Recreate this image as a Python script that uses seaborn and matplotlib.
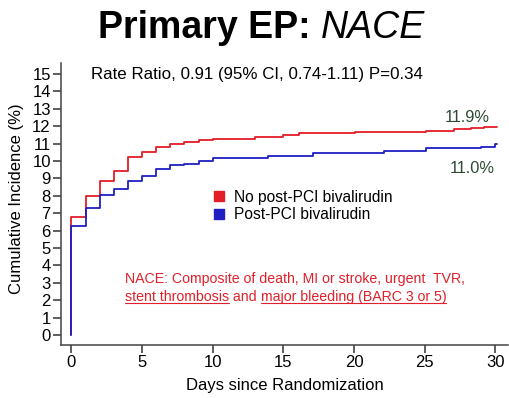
import numpy as np
import pandas as pd
import matplotlib
matplotlib.use("Agg")
import matplotlib.pyplot as plt
from matplotlib.lines import Line2D
import seaborn as sns

# values (step points)
red_days = [0, 0, 1, 2, 3, 4, 5, 6, 7, 8, 9, 10, 13, 15, 16.1, 20.1, 25.1, 27.1, 28.3, 29.2, 30.1]
red_inc = [0, 6.8, 8.0, 8.85, 9.42, 10.22, 10.52, 10.82, 10.95, 11.07, 11.18, 11.27, 11.4, 11.49,
           11.59, 11.67, 11.74, 11.82, 11.88, 11.96, 11.96]
blue_days = [0, 0, 1, 2, 3, 4, 5, 6, 7, 8, 9, 10, 13.9, 17.1, 22.1, 25.1, 29.0, 30.0, 30.1]
blue_inc = [0, 6.27, 7.3, 8.05, 8.4, 8.88, 9.16, 9.55, 9.77, 9.85, 10.02, 10.19, 10.29, 10.48,
            10.59, 10.73, 10.79, 10.95, 10.95]

arms = ["No post-PCI bivalirudin", "Post-PCI bivalirudin"]
arm_colors = ["#e41e26", "#1f1fc4"]
end_labels = ["11.9%", "11.0%"]
x_ticks = [0, 5, 10, 15, 20, 25, 30]
y_ticks = list(range(0, 16))

df = pd.concat([
    pd.DataFrame({"day": red_days, "inc": red_inc, "arm": arms[0]}),
    pd.DataFrame({"day": blue_days, "inc": blue_inc, "arm": arms[1]}),
])

sns.set_style("ticks")
plt.rcParams["font.family"] = ["Liberation Sans", "DejaVu Sans"]
plt.rcParams["text.color"] = "black"
plt.rcParams["axes.labelcolor"] = "black"

W, H = 510, 398
def fx(x):
    return x / W
def fy(y):
    return 1 - y / H

fig = plt.figure(figsize=(W / 100, H / 100), dpi=100)
ax = fig.add_axes([fx(61), fy(345), (508 - 61) / W, (345 - 63) / H])

sns.lineplot(data=df, x="day", y="inc", hue="arm", palette=dict(zip(arms, arm_colors)),
             estimator=None, sort=False, drawstyle="steps-post", lw=1.3, legend=False, ax=ax)

ax.set_xlim(-0.74, 30.9)
ax.set_ylim(-0.57, 15.63)
ax.set_xticks(x_ticks)
ax.set_yticks(y_ticks)
ax.tick_params(labelsize=12, length=5.8, width=1.1, colors="#333333", labelcolor="black", pad=1.5)
for s in ["left", "bottom"]:
    ax.spines[s].set_linewidth(1.1)
    ax.spines[s].set_color("#444444")
sns.despine(ax=ax)
ax.set_xlabel("Days since Randomization", fontsize=12)
ax.set_ylabel("Cumulative Incidence (%)", fontsize=12)
ax.xaxis.set_label_coords(0.5, -0.118)
ax.yaxis.set_label_coords(-0.082, 0.518)

# end-of-curve labels
fig.text(fx(467), fy(118), end_labels[0], fontsize=11.8, color="#2e4a35", ha="center", va="center")
fig.text(fx(472), fy(168), end_labels[1], fontsize=11.8, color="#2e4a35", ha="center", va="center")

fig.text(fx(91), fy(74), "Rate Ratio, 0.91 (95% CI, 0.74-1.11) P=0.34", fontsize=12.2, va="center")

# legend with square markers
handles = [Line2D([], [], marker="s", ls="none", color=c, markersize=7) for c in arm_colors]
ax.legend(handles, arms, loc="center left", bbox_to_anchor=(fx(197), fy(206)),
          bbox_transform=fig.transFigure, frameon=False, fontsize=11.2, handlelength=1,
          handletextpad=0.5, labelspacing=0.15)

# red footnote with underlined parts
red = "#e0202a"
fig.text(fx(125), fy(283), "NACE: Composite of death, MI or stroke, urgent  TVR,", fontsize=10.2,
         color=red, va="baseline")
fig.canvas.draw()
r = fig.canvas.get_renderer()
x0 = 125
parts = [("stent thrombosis", True), (" and ", False), ("major bleeding (BARC 3 or 5)", True)]
for txt, under in parts:
    t = fig.text(fx(x0), fy(301), txt, fontsize=10.2, color=red, va="baseline")
    bb = t.get_window_extent(r)
    if under:
        ly = fy(303)
        fig.add_artist(Line2D([fx(x0), fx(x0) + bb.width / W], [ly, ly], color=red, lw=0.8))
    x0 += bb.width

# title: bold part + italic part
t1 = fig.text(fx(98), fy(38), "Primary EP: ", fontsize=27, fontweight="bold", va="baseline")
bb = t1.get_window_extent(r)
fig.text(fx(98) + bb.width / W, fy(38), "NACE", fontsize=27, fontstyle="italic", va="baseline")

fig.savefig("out.png", dpi=100)
